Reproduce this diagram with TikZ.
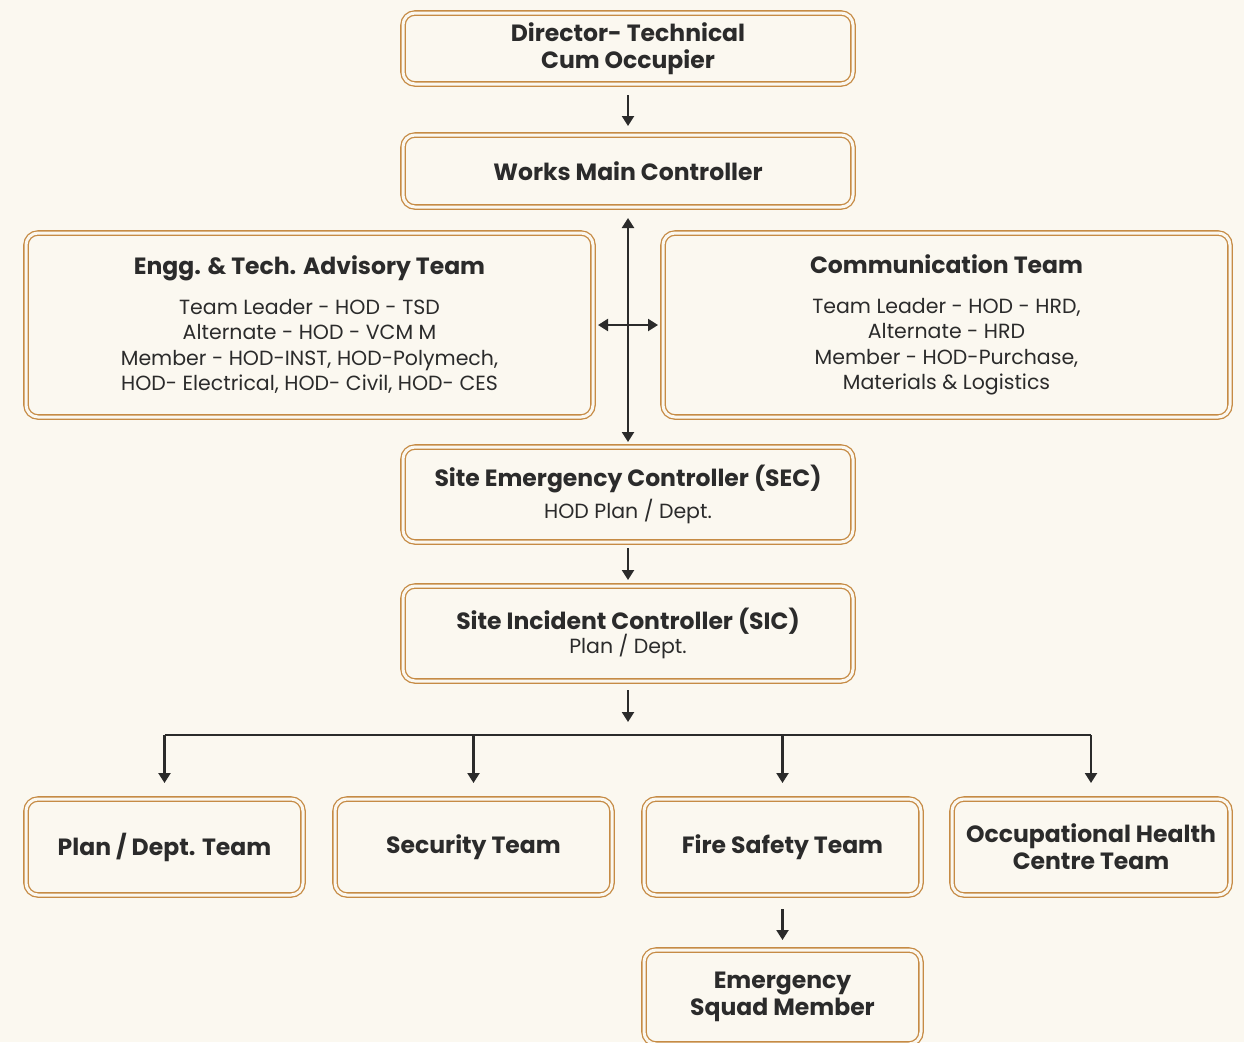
\documentclass[tikz,border=0pt]{standalone}
\usepackage{fontspec}
\setmainfont{Poppins}
\usetikzlibrary{arrows.meta}
\definecolor{paper}{HTML}{FBF8F0}
\definecolor{gold}{HTML}{C68B45}
\definecolor{ink}{HTML}{2B2B2B}

\begin{document}
\begin{tikzpicture}[x=1pt,y=-1pt]
      \tikzset{box/.style={draw=gold,double=paper,double distance=3pt,line width=1.3pt,
            rounded corners=12pt,outer sep=0pt,inner sep=0pt,align=center,text=ink,
            font=\fontsize{20.5}{25.5}\selectfont},
         head/.style={font=\fontsize{23.5}{27}\selectfont\bfseries},
         arr/.style={ink,line width=2.2pt,-{Triangle[length=10pt,width=12pt]}},
         both/.style={ink,line width=2.2pt,{Triangle[length=10pt,width=12pt]}-{Triangle[length=10pt,width=12pt]}}}
      \fill[paper] (0,0) rectangle (1244,1042);
      \useasboundingbox (0,0) rectangle (1244,1042);
      \node[box,head,minimum width=450,minimum height=71] (dir) at (628,48.5) {Director- Technical\\Cum Occupier};
      \node[box,head,minimum width=450,minimum height=72] (wmc) at (628,171) {Works Main Controller};
      \node[box,minimum width=567,minimum height=184] (etat) at (309.5,325)
            {{\fontsize{23.5}{27}\selectfont\bfseries Engg. \& Tech. Advisory Team}\\[14pt]
            Team Leader - HOD - TSD\\Alternate - HOD - VCM M\\Member - HOD-INST, HOD-Polymech,\\HOD- Electrical, HOD- Civil, HOD- CES};
      \node[box,minimum width=567,minimum height=184] (comm) at (946.5,325)
            {{\fontsize{23.5}{27}\selectfont\bfseries Communication Team}\\[14pt]
            Team Leader - HOD - HRD,\\Alternate - HRD\\Member - HOD-Purchase,\\Materials \& Logistics};
      \node[box,minimum width=450,minimum height=95] (sec) at (628,494.5)
            {{\fontsize{23.5}{27}\selectfont\bfseries Site Emergency Controller (SEC)}\\[6pt]HOD Plan / Dept.};
      \node[box,minimum width=450,minimum height=95] (sic) at (628,633.5)
            {{\fontsize{23.5}{27}\selectfont\bfseries Site Incident Controller (SIC)}\\[-1pt]Plan / Dept.};
      \node[box,head,minimum width=277,minimum height=96] (plan) at (164.5,847) {Plan / Dept. Team};
      \node[box,head,minimum width=277,minimum height=96] (secu) at (473.5,847) {Security Team};
      \node[box,head,minimum width=277,minimum height=96] (fire) at (782.5,847) {Fire Safety Team};
      \node[box,head,minimum width=278,minimum height=96] (ohc) at (1091,847) {Occupational Health\\Centre Team};
      \node[box,head,minimum width=277,minimum height=94] (esm) at (782.5,997) {Emergency\\Squad Member};
      \coordinate (bus) at (628,735);
      \draw[arr,shorten <=11pt,shorten >=9pt] (dir) -- (wmc);
      \draw[both,shorten <=11pt,shorten >=5pt] (wmc) -- (sec);
      \draw[both,shorten <=5pt,shorten >=5pt] (etat.east) -- (comm.west);
      \draw[arr,shorten <=6pt,shorten >=6pt] (sec) -- (sic);
      \draw[arr,shorten <=9pt,shorten >=13pt] (sic) -- (bus);
      \draw[ink,line width=2.2pt] (plan.north |- bus) -- (ohc.north |- bus);
      \foreach \t in {plan,secu,fire,ohc}
         \draw[arr,shorten >=16pt] (\t.north |- bus) -- (\t.north);
      \draw[arr,shorten <=14pt,shorten >=10pt] (fire) -- (esm);
    \end{tikzpicture}
\end{document}
